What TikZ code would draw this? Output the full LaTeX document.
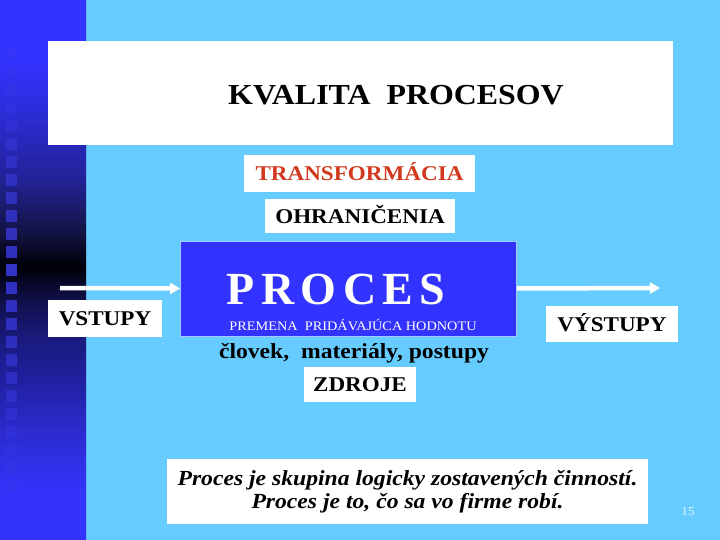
\documentclass[tikz,border=0pt]{standalone}
\usepackage{fontspec}
\setmainfont[FakeStretch=1.1]{Liberation Serif}
\newfontfamily\procesfont{Liberation Serif}
\usetikzlibrary{arrows.meta}

\definecolor{skyback}{HTML}{66CCFF}
\definecolor{boxblue}{HTML}{3333FF}
\definecolor{boxedge}{HTML}{A8C8FF}
\definecolor{tileblue}{HTML}{3C3CE8}
\definecolor{transred}{HTML}{D2381C}
\definecolor{pagenum}{HTML}{E6F6FF}
\definecolor{sb}{HTML}{3333FF}
\definecolor{sa}{HTML}{3333FA}
\definecolor{s8}{HTML}{2B2BCF}
\definecolor{s7}{HTML}{2020A0}
\definecolor{s6}{HTML}{1A1A80}
\definecolor{s5}{HTML}{10104A}
\definecolor{s4}{HTML}{000008}
\definecolor{s3}{HTML}{141448}
\definecolor{s2}{HTML}{222295}
\definecolor{s1}{HTML}{2B2BD0}

% dark band of the left strip
\pgfdeclareverticalshading{stripshade}{100bp}{color(0bp)=(sb); color(25bp)=(sb);
  color(29.63bp)=(sa); color(35.19bp)=(s8); color(39.81bp)=(s7); color(43.52bp)=(s6);
  color(47.22bp)=(s5); color(50.28bp)=(s4); color(53.70bp)=(s3); color(58.33bp)=(s2);
  color(63.89bp)=(s1); color(69.44bp)=(sb); color(75bp)=(sb); color(100bp)=(sb)}

\newcommand\gap{\hspace{6.5pt}}

\tikzset{
  labelbox/.style={fill=white, inner sep=0pt, text height=14pt, text depth=0pt,
    font=\fontsize{21}{25}\selectfont\bfseries},
  flow/.style={white, line width=4.5pt, -{Triangle[length=10pt,width=11pt]}},
  tile/.style={fill=tileblue}
}

\begin{document}
\begin{tikzpicture}[x=1pt,y=-1pt]
  \useasboundingbox (0,0) rectangle (720,540);
  \fill[skyback] (0,0) rectangle (720,540);
  \shade[shading=stripshade] (0,0) rectangle (86,540);
  \foreach \i in {0,...,24} {
    \pgfmathsetmacro\op{max(0.25,0.85-abs(54+18*\i-270)/300)}
    \fill[tile, opacity=\op] (6,{48+18*\i}) rectangle ++(11,12);
  }

  % title
  \node[fill=white, minimum width=625pt, minimum height=104pt] (titlebox) at (360.5,93) {};
  \node[anchor=base, font=\fontsize{29}{34}\selectfont\bfseries] (title) at (396,105) {KVALITA\ \ PROCESOV};

  \node[labelbox, text=transred, minimum width=231pt, minimum height=37pt] (transf) at (359.5,173.5) {TRANSFORMÁCIA};
  \node[labelbox, minimum width=190pt, minimum height=34pt] (ohran) at (360,216) {OHRANIČENIA};

  % the process block
  \node[fill=boxblue, draw=boxedge, line width=0.8pt, minimum width=336pt, minimum height=95pt] (proces) at (348.5,288.5) {};
  \node[anchor=base, white, font=\procesfont\bfseries\fontsize{46}{50}\selectfont] (procestext) at (336,304) {P\gap R\gap O\gap C\gap E\gap S};
  \node[anchor=base, white, font=\fontsize{13}{15}\selectfont] (premena) at (353,330) {PREMENA\ \ PRIDÁVAJÚCA HODNOTU};
  \node[anchor=base, font=\fontsize{21.5}{25}\selectfont\bfseries] (zdrojlist) at (354,358) {človek,\ \ materiály, postupy};
  \node[labelbox, minimum width=112pt, minimum height=35pt] (zdroje) at (360,384.5) {ZDROJE};

  \node[labelbox, minimum width=114pt, minimum height=37pt] (vstupy) at (105,318.5) {VSTUPY};
  \node[labelbox, minimum width=132pt, minimum height=36pt] (vystupy) at (612,324) {VÝSTUPY};

  \coordinate (instart) at (60,288);
  \coordinate (outend) at (660,288);
  \draw[flow] (instart) -- (proces.west);
  \draw[flow] (proces.east) -- (outend);

  % definition
  \node[fill=white, inner sep=0pt, minimum width=481pt, minimum height=65pt, align=center,
    font=\fontsize{21.5}{23}\selectfont\bfseries\itshape] (definicia) at (407.5,491.5)
    {Proces je skupina logicky zostavených činností.\\Proces je to, čo sa vo firme robí.};

  \node[anchor=base, text=pagenum, font=\fontsize{12}{14}\selectfont] (strana) at (688,515) {15};
\end{tikzpicture}
\end{document}
